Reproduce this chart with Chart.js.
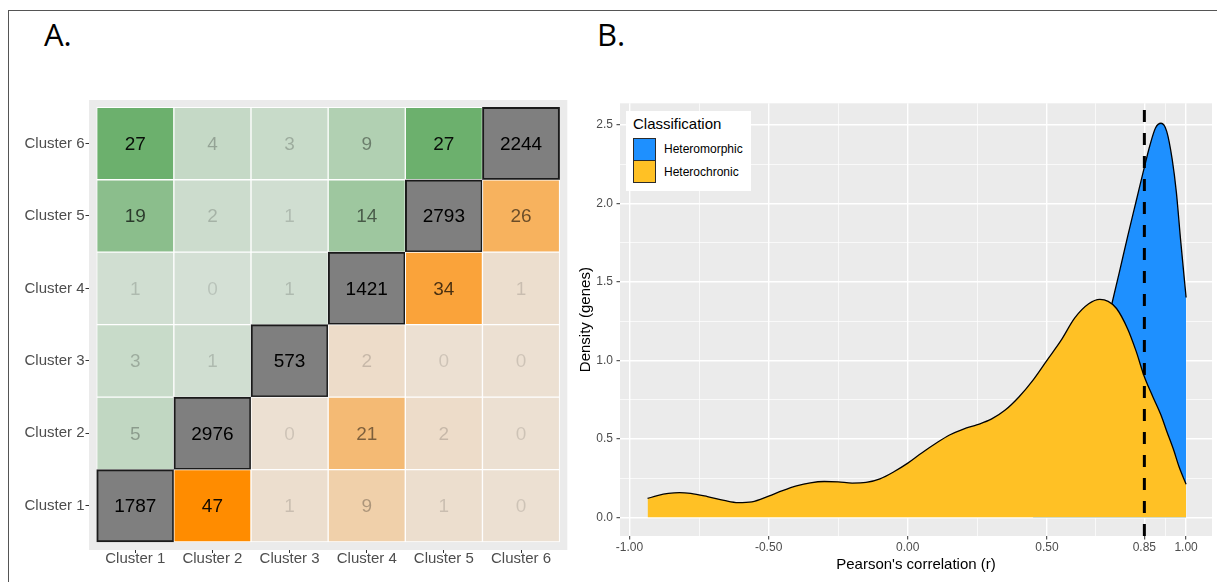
<!DOCTYPE html>
<html>
<head>
<meta charset="utf-8">
<script src="https://cdn.jsdelivr.net/npm/chart.js@4.4.1/dist/chart.umd.min.js"></script>
<style>
  html, body { margin: 0; padding: 0; background: #fff; }
  body { width: 1217px; height: 582px; position: relative; overflow: hidden;
         font-family: 'Liberation Sans', Arial, sans-serif; }
  .frame-top { position: absolute; left: 8px; top: 9.5px; right: 0; height: 1.5px; background: #555; }
  .frame-left { position: absolute; left: 7.5px; top: 9.5px; bottom: 0; width: 1.5px; background: #555; }
  .tag { position: absolute; font-family: 'Open Sans', sans-serif; font-size: 31px; line-height: 31px; color: #000; }
  #cA { position: absolute; left: 0; top: 0; }
  #cB { position: absolute; left: 570px; top: 0; }
  .legend { position: absolute; left: 626px; top: 111px; width: 125px; height: 80px; background: #fff; }
  .legend .title { position: absolute; left: 7px; top: 5px; font-size: 15px; line-height: 15px; color: #000; white-space: nowrap; }
  .legend .row { position: absolute; left: 7px; height: 23px; display: flex; align-items: center; }
  .legend .key { width: 23px; height: 23px; box-sizing: border-box; border: 1.2px solid #2b2b2b; }
  .legend .lab { margin-left: 8px; font-size: 12px; color: #000; white-space: nowrap; }
</style>
</head>
<body>
<div class="frame-top"></div>
<div class="frame-left"></div>
<div class="tag" style="left:44px; top:19px;">A.</div>
<div class="tag" style="left:597px; top:19px;">B.</div>

<canvas id="cA" width="580" height="582"></canvas>
<canvas id="cB" width="647" height="582"></canvas>

<div class="legend">
  <div class="title">Classification</div>
  <div class="row" style="top:26.5px;"><div class="key" id="keyMorph"></div><span class="lab">Heteromorphic</span></div>
  <div class="row" style="top:49px;"><div class="key" id="keyChron"></div><span class="lab">Heterochronic</span></div>
</div>

<script>
// ---------- Panel A: cluster-to-cluster gene counts ----------
const clusters = ['Cluster 1', 'Cluster 2', 'Cluster 3', 'Cluster 4', 'Cluster 5', 'Cluster 6'];

// One array per y-axis cluster, ordered by x-axis cluster
const cluster1Row = [1787, 47, 1, 9, 1, 0];
const cluster2Row = [5, 2976, 0, 21, 2, 0];
const cluster3Row = [3, 1, 573, 2, 0, 0];
const cluster4Row = [1, 0, 1, 1421, 34, 1];
const cluster5Row = [19, 2, 1, 14, 2793, 26];
const cluster6Row = [27, 4, 3, 9, 27, 2244];
const countRows = [cluster1Row, cluster2Row, cluster3Row, cluster4Row, cluster5Row, cluster6Row];

// ---------- Panel B: density of Pearson's r ----------
const heterochronicR = [-0.935, -0.90, -0.86, -0.82, -0.78, -0.72, -0.66, -0.61, -0.56, -0.50,
  -0.45, -0.40, -0.35, -0.30, -0.25, -0.20, -0.15, -0.10, -0.05, 0.00,
  0.05, 0.10, 0.15, 0.20, 0.25, 0.30, 0.35, 0.40, 0.45, 0.50,
  0.55, 0.60, 0.65, 0.69, 0.72, 0.75, 0.79, 0.82, 0.85, 0.88,
  0.91, 0.93, 0.955, 0.975, 1.00];
const heterochronicDensity = [0.120, 0.138, 0.152, 0.157, 0.152, 0.132, 0.108, 0.094, 0.099, 0.135,
  0.170, 0.200, 0.220, 0.228, 0.226, 0.218, 0.222, 0.245, 0.290, 0.345,
  0.410, 0.470, 0.524, 0.562, 0.590, 0.625, 0.683, 0.768, 0.874, 1.000,
  1.125, 1.270, 1.360, 1.388, 1.375, 1.330, 1.200, 1.060, 0.895, 0.770,
  0.650, 0.550, 0.430, 0.320, 0.210];

const heteromorphicR = [0.45, 0.50, 0.55, 0.60, 0.65, 0.70, 0.735, 0.76, 0.79, 0.82,
  0.85, 0.87, 0.89, 0.91, 0.93, 0.95, 0.965, 0.98, 1.00];
const heteromorphicDensity = [0.05, 0.12, 0.25, 0.45, 0.75, 1.12, 1.373, 1.56, 1.79, 2.01,
  2.23, 2.37, 2.48, 2.51, 2.46, 2.28, 2.07, 1.77, 1.40];

const threshold = 0.85;

const xMajor = [-1, -0.5, 0, 0.5, 0.85, 1];
const xMinor = [-0.75, -0.25, 0.25, 0.675, 0.925];
const yMajor = [0, 0.5, 1, 1.5, 2, 2.5];
const yMinor = [0.25, 0.75, 1.25, 1.75, 2.25];

// ---------- shared styling ----------
Chart.defaults.font.family = "'Liberation Sans', Arial, sans-serif";
Chart.defaults.color = '#4d4d4d';

const panelBg = {
  id: 'panelBg',
  beforeDraw(chart, args, opts) {
    const { ctx, chartArea: a } = chart;
    ctx.save();
    ctx.fillStyle = opts.color || '#ebebeb';
    ctx.fillRect(a.left, a.top, a.width, a.height);
    ctx.restore();
  }
};

// ---------- heatmap colours ----------
const greenLow = [212, 224, 213], greenHigh = [108, 176, 109];
const orangeLow = [236, 224, 210], orangeHigh = [255, 140, 0];
const lowerMax = Math.max(...countRows.flatMap((row, r) => row.filter((v, c) => r > c)));
const upperMax = Math.max(...countRows.flatMap((row, r) => row.filter((v, c) => c > r)));

function mix(lo, hi, t) {
  return 'rgb(' + lo.map((v, i) => Math.round(v + (hi[i] - v) * t)).join(',') + ')';
}
function shareOf(r, c) {
  const v = countRows[r][c];
  return r > c ? v / lowerMax : v / upperMax;
}
function fillFor(r, c) {
  if (r === c) return '#7f7f7f';
  return r > c ? mix(greenLow, greenHigh, shareOf(r, c)) : mix(orangeLow, orangeHigh, shareOf(r, c));
}
function textFor(r, c) {
  if (r === c) return '#000';
  return 'rgba(0,0,0,' + (0.13 + 0.8 * shareOf(r, c)).toFixed(3) + ')';
}

const heatDatasets = countRows.map((row, r) => ({
  label: clusters[r],
  data: row.map((v, c) => ({ x: c + 0.5, y: 1 })),
  counts: row,
  backgroundColor: row.map((v, c) => fillFor(r, c)),
  borderColor: row.map((v, c) => (r === c ? '#1a1a1a' : '#ffffff')),
  borderWidth: row.map((v, c) => (r === c ? 2 : 1)),
  borderSkipped: false,
  barPercentage: 1,
  categoryPercentage: 1
}));

const tileLabels = {
  id: 'tileLabels',
  afterDatasetsDraw(chart) {
    const ctx = chart.ctx;
    ctx.save();
    ctx.font = "19px 'Liberation Sans', Arial, sans-serif";
    ctx.textAlign = 'center';
    ctx.textBaseline = 'middle';
    chart.data.datasets.forEach((ds, r) => {
      chart.getDatasetMeta(r).data.forEach((bar, c) => {
        ctx.fillStyle = textFor(r, c);
        ctx.fillText(String(ds.counts[c]), bar.x, (bar.y + bar.base) / 2 + 1);
      });
    });
    ctx.restore();
  }
};

new Chart(document.getElementById('cA'), {
  type: 'bar',
  data: { datasets: heatDatasets },
  options: {
    responsive: false,
    animation: false,
    events: [],
    layout: { padding: { left: 0, top: 100, right: 12.7, bottom: 0 } },
    plugins: { legend: { display: false }, tooltip: { enabled: false }, panelBg: { color: '#ebebeb' } },
    scales: {
      x: {
        type: 'linear', stacked: true, offset: false, min: -0.1, max: 6.1,
        afterBuildTicks: s => { s.ticks = clusters.map((_, i) => ({ value: i + 0.5 })); },
        afterFit: s => { s.height = 32; },
        ticks: { autoSkip: false, maxRotation: 0, padding: -3, color: '#4d4d4d', font: { size: 15 },
                 callback: (v, i) => clusters[i] },
        grid: { offset: false, drawOnChartArea: false, tickLength: 3, tickColor: '#333', tickWidth: 1 },
        border: { display: false }
      },
      y: {
        type: 'linear', stacked: true, min: -0.11, max: 6.1,
        afterBuildTicks: s => { s.ticks = clusters.map((_, i) => ({ value: i + 0.5 })); },
        afterFit: s => { s.width = 89; },
        ticks: { autoSkip: false, padding: 1, color: '#4d4d4d', font: { size: 15 },
                 callback: (v, i) => clusters[i] },
        grid: { drawOnChartArea: false, tickLength: 3.5, tickColor: '#333', tickWidth: 1 },
        border: { display: false }
      }
    }
  },
  plugins: [panelBg, tileLabels]
});

// ---------- density panel ----------
const chronColor = '#FFC125';
const morphColor = '#1E90FF';
document.getElementById('keyChron').style.background = chronColor;
document.getElementById('keyMorph').style.background = morphColor;

const toPoints = (xs, ys) => xs.map((x, i) => ({ x, y: ys[i] }));
const xMin = -1.034, xMax = 1.093;
const yMin = -0.119, yMax = 2.637;

const isMinor = (list, v) => list.some(m => Math.abs(m - v) < 1e-9);

new Chart(document.getElementById('cB'), {
  type: 'line',
  data: {
    datasets: [
      {
        label: 'Heterochronic',
        data: toPoints(heterochronicR, heterochronicDensity),
        borderColor: '#000', borderWidth: 1.3, backgroundColor: chronColor,
        fill: 'origin', pointRadius: 0, cubicInterpolationMode: 'monotone', order: 1
      },
      {
        label: 'Heteromorphic',
        data: toPoints(heteromorphicR, heteromorphicDensity),
        borderColor: '#000', borderWidth: 1.3, backgroundColor: morphColor,
        fill: 'origin', pointRadius: 0, cubicInterpolationMode: 'monotone', order: 2
      },
      {
        label: 'r = 0.85',
        data: [{ x: threshold, y: yMin }, { x: threshold, y: yMax }],
        borderColor: '#000', borderWidth: 3, borderDash: [12, 11],
        fill: false, pointRadius: 0, order: 0
      }
    ]
  },
  options: {
    responsive: false,
    animation: false,
    events: [],
    layout: { padding: { left: 0, top: 103.3, right: 5, bottom: 0 } },
    plugins: { legend: { display: false }, tooltip: { enabled: false }, panelBg: { color: '#ebebeb' } },
    scales: {
      x: {
        type: 'linear', min: xMin, max: xMax,
        afterBuildTicks: s => { s.ticks = [...xMajor, ...xMinor].sort((a, b) => a - b).map(v => ({ value: v })); },
        afterFit: s => { s.height = 46; },
        ticks: { autoSkip: false, maxRotation: 0, padding: 1.4, color: '#4d4d4d', font: { size: 12 },
                 callback: v => (isMinor(xMinor, v) ? '' : v.toFixed(2)) },
        grid: {
          color: '#ffffff',
          lineWidth: c => (c.tick && isMinor(xMinor, c.tick.value) ? 0.7 : 1.4),
          tickColor: c => (c.tick && isMinor(xMinor, c.tick.value) ? 'rgba(0,0,0,0)' : '#333'),
          tickLength: 3.5, tickWidth: 1
        },
        border: { display: false },
        title: { display: true, text: "Pearson's correlation (r)", color: '#000', font: { size: 15 },
                 padding: { top: 0, bottom: 8 } }
      },
      y: {
        type: 'linear', min: yMin, max: yMax,
        afterBuildTicks: s => { s.ticks = [...yMajor, ...yMinor].sort((a, b) => a - b).map(v => ({ value: v })); },
        afterFit: s => { s.width = 50; },
        ticks: { autoSkip: false, padding: 3.5, color: '#4d4d4d', font: { size: 12 },
                 callback: v => (isMinor(yMinor, v) ? '' : v.toFixed(1)) },
        grid: {
          color: '#ffffff',
          lineWidth: c => (c.tick && isMinor(yMinor, c.tick.value) ? 0.7 : 1.4),
          tickColor: c => (c.tick && isMinor(yMinor, c.tick.value) ? 'rgba(0,0,0,0)' : '#333'),
          tickLength: 3.5, tickWidth: 1
        },
        border: { display: false },
        title: { display: true, text: 'Density (genes)', color: '#000', font: { size: 15 },
                 padding: { top: 7, bottom: 0 } }
      }
    }
  },
  plugins: [panelBg]
});
</script>
</body>
</html>
